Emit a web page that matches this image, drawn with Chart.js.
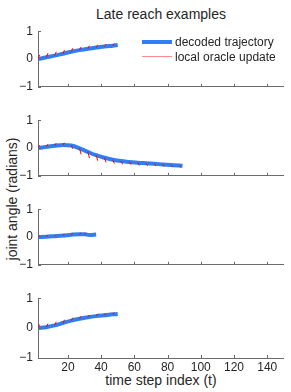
<!DOCTYPE html>
<html lang="en">
<head>
    <meta charset="UTF-8">
    <title>Late reach examples</title>
    <script src="https://cdn.jsdelivr.net/npm/chart.js"></script>
    <style>
        body { margin: 0; background: #fff; }
        #fig { position: relative; width: 291px; height: 392px; font-family: 'Liberation Sans', Arial, sans-serif; color: #262626; }
        #fig canvas { position: absolute; left: 0; }
        .txt { position: absolute; white-space: nowrap; }
        .swatch { position: absolute; }
    </style>
</head>
<body>
<div id="fig">
    <div class="txt" id="title" style="left:0; width:322px; top:5px; font-size:14px; line-height:18px; text-align:center;">Late reach examples</div>
    <div class="txt" id="xlabel" style="left:0; width:322px; top:371px; font-size:14px; line-height:18px; text-align:center;">time step index (t)</div>
    <div class="txt" id="ylabel" style="left:12px; top:199px; font-size:14px; line-height:18px; transform:translate(-50%,-50%) rotate(-90deg);">joint angle (radians)</div>
    <canvas id="chart1"></canvas>
    <canvas id="chart2"></canvas>
    <canvas id="chart3"></canvas>
    <canvas id="chart4"></canvas>
    <div class="swatch" style="left:142px; top:40px; width:30px; height:4px; background:#2f7ef2;"></div>
    <div class="swatch" style="left:142px; top:56px; width:30px; height:1px; background:rgba(255,60,60,0.6);"></div>
    <div class="txt" style="left:175px; top:35px; font-size:12px; line-height:14px;">decoded trajectory</div>
    <div class="txt" style="left:175px; top:50px; font-size:12px; line-height:14px;">local oracle update</div>
</div>
<script>
    // time axis ticks / y ticks
    var xTicks = [20, 40, 60, 80, 100, 120, 140]
    var yTicks = [-1, 0, 1]

    // panel 1
    var t1 = [2, 7, 12, 17, 22, 27, 32, 37, 42, 47, 50]
    var traj1 = [0.00, 0.06, 0.12, 0.19, 0.26, 0.32, 0.37, 0.41, 0.45, 0.48, 0.50]
    var upd1 = [0.15, 0.15, 0.14, 0.14, 0.13, 0.12, 0.11, 0.10, 0.09, 0.08]

    // panel 2
    var t2 = [2, 7, 12, 17, 22, 27, 32, 37, 42, 47, 52, 57, 62, 67, 72, 77, 82, 87, 89]
    var traj2 = [0.00, 0.04, 0.08, 0.11, 0.09, -0.01, -0.14, -0.26, -0.35, -0.42, -0.47, -0.50, -0.53, -0.55, -0.57, -0.59, -0.61, -0.63, -0.64]
    var upd2 = [0.10, 0.10, 0.10, 0.08, -0.12, -0.22, -0.22, -0.20, -0.17, -0.14, -0.12, -0.10, -0.10, -0.09, -0.08, -0.08, -0.08, -0.07]

    // panel 3
    var t3 = [2, 7, 12, 17, 22, 27, 30, 33, 37]
    var traj3 = [0.00, 0.01, 0.03, 0.05, 0.08, 0.10, 0.10, 0.07, 0.09]
    var upd3 = [0.06, 0.05, 0.05, 0.05, 0.05, 0.05, 0.05]

    // panel 4
    var t4 = [2, 7, 12, 17, 22, 27, 32, 37, 42, 47, 50]
    var traj4 = [0.00, 0.03, 0.09, 0.17, 0.25, 0.31, 0.36, 0.40, 0.43, 0.46, 0.47]
    var upd4 = [0.12, 0.12, 0.12, 0.11, 0.10, 0.09, 0.08, 0.08, 0.07, 0.06]

    var plotTops = [27, 116, 205, 294]
    var plotH = 64
    var axisCol = '#6b6b6b'
    var blue = '#2f7ef2'

    // inward tick marks, matlab style
    var innerTicks = {
        id: 'innerTicks',
        afterDraw: function (chart) {
            var ctx = chart.ctx
            var a = chart.chartArea
            ctx.save()
            ctx.strokeStyle = axisCol
            ctx.lineWidth = 1
            ctx.beginPath()
            xTicks.forEach(function (v) {
                var px = Math.round(chart.scales.x.getPixelForValue(v)) + 0.5
                ctx.moveTo(px, a.bottom)
                ctx.lineTo(px, a.bottom - 3)
            })
            yTicks.forEach(function (v) {
                var py = Math.round(chart.scales.y.getPixelForValue(v)) + 0.5
                ctx.moveTo(a.left, py)
                ctx.lineTo(a.left + 3, py)
            })
            ctx.stroke()
            ctx.restore()
        }
    }

    function makePanel(id, idx, tt, traj, upd, showX) {
        var cv = document.getElementById(id)
        var padTop = 8
        var bottomH = showX ? 24 : 8
        cv.width = 291
        cv.height = padTop + plotH + bottomH
        cv.style.top = (plotTops[idx] - padTop) + 'px'

        var line = []
        for (var i = 0; i < tt.length; i++) line.push({ x: tt[i], y: traj[i] })

        var segs = []
        for (var j = 0; j < upd.length; j++) {
            segs.push({ x: tt[j], y: traj[j] })
            segs.push({ x: tt[j] + 1, y: traj[j] + upd[j] })
            segs.push({ x: tt[j] + 1, y: null })
        }

        new Chart(cv, {
            type: 'line',
            data: {
                datasets: [{
                    label: 'local oracle update',
                    data: segs,
                    borderColor: 'rgb(255,0,0)',
                    borderWidth: 1,
                    pointRadius: 0,
                    spanGaps: false
                }, {
                    label: 'decoded trajectory',
                    data: line,
                    borderColor: blue,
                    borderWidth: 4,
                    pointRadius: 0,
                    cubicInterpolationMode: 'monotone',
                    borderCapStyle: 'butt'
                }]
            },
            options: {
                responsive: false,
                animation: false,
                layout: { padding: { top: padTop, right: 8, left: 0, bottom: 0 } },
                plugins: { legend: { display: false }, tooltip: { enabled: false } },
                scales: {
                    x: {
                        type: 'linear',
                        min: 2,
                        max: 149.5,
                        afterBuildTicks: function (s) { s.ticks = xTicks.map(function (v) { return { value: v } }) },
                        afterFit: function (s) { s.height = bottomH },
                        grid: { drawOnChartArea: false, drawTicks: false },
                        border: { color: axisCol, width: 1 },
                        ticks: {
                            display: showX,
                            padding: 2,
                            maxRotation: 0,
                            color: '#262626',
                            font: { family: "'Liberation Sans', Arial, sans-serif", size: 12 }
                        }
                    },
                    y: {
                        min: -1,
                        max: 1,
                        afterBuildTicks: function (s) { s.ticks = yTicks.map(function (v) { return { value: v } }) },
                        afterFit: function (s) { s.width = 38 },
                        grid: { drawOnChartArea: false, drawTicks: false },
                        border: { color: axisCol, width: 1 },
                        ticks: {
                            padding: 5,
                            color: '#262626',
                            font: { family: "'Liberation Sans', Arial, sans-serif", size: 12 },
                            callback: function (v) { return v < 0 ? '\u2212' + Math.abs(v) : String(v) }
                        }
                    }
                }
            },
            plugins: [innerTicks]
        })
    }

    makePanel('chart1', 0, t1, traj1, upd1, false)
    makePanel('chart2', 1, t2, traj2, upd2, false)
    makePanel('chart3', 2, t3, traj3, upd3, false)
    makePanel('chart4', 3, t4, traj4, upd4, true)
</script>
</body>
</html>
